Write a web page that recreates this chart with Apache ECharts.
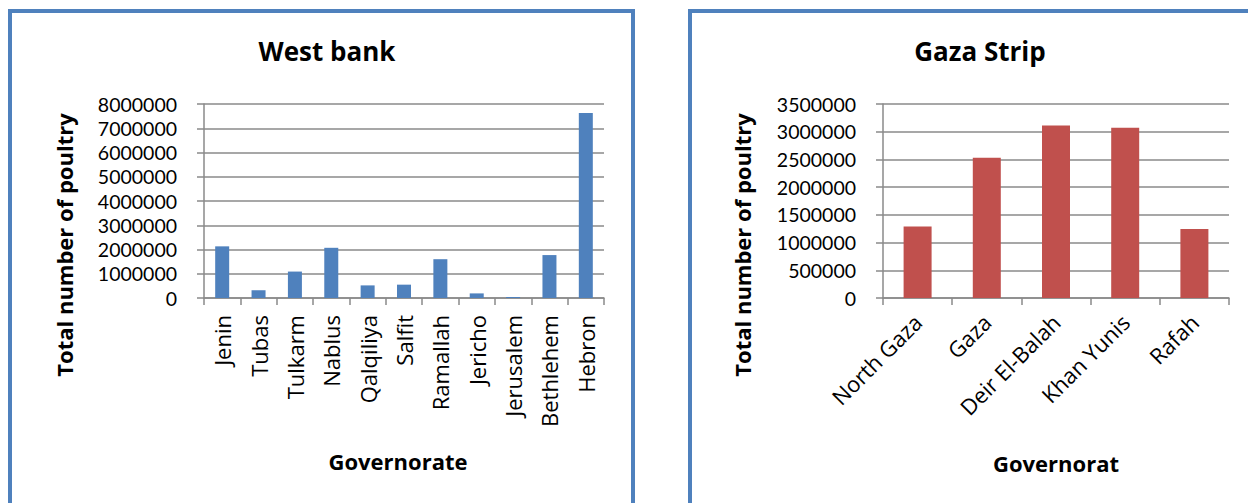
<!DOCTYPE html>
<html>
<head>
<meta charset="utf-8">
<title>Total number of poultry by governorate</title>
<script src="https://cdn.jsdelivr.net/npm/echarts@6/dist/echarts.min.js"></script>
<style>
  html, body { margin: 0; padding: 0; background: #fff; }
  #chart { width: 1248px; height: 503px; }
</style>
</head>
<body>
<div id="chart"></div>
<script>
// West bank
const westCategories = ['Jenin', 'Tubas', 'Tulkarm', 'Nablus', 'Qalqiliya', 'Salfit', 'Ramallah', 'Jericho', 'Jerusalem', 'Bethlehem', 'Hebron']
const westValues = [2130000, 320000, 1090000, 2070000, 520000, 550000, 1600000, 190000, 40000, 1770000, 7630000]
const westTickMax = 8000000
const westTickStep = 1000000

// Gaza Strip
const gazaCategories = ['North Gaza', 'Gaza', 'Deir El-Balah', 'Khan Yunis', 'Rafah']
const gazaValues = [1290000, 2530000, 3110000, 3070000, 1245000]
const gazaTickMax = 3500000
const gazaTickStep = 500000

const FONT = '"Open Sans", "Liberation Sans", sans-serif'
const TICK_FONT = 'Lato, "Open Sans", sans-serif'
const GRID_GREY = '#8a8a8a'
const PANEL_BLUE = '#4f81bd'

const chart = echarts.init(document.getElementById('chart'), null, { renderer: 'svg' })

// 坐标轴公共样式
function valueAxis(gridIndex, max, step) {
  return {
    type: 'value',
    gridIndex: gridIndex,
    min: 0,
    max: max,
    interval: step,
    axisLine: { show: true, lineStyle: { color: GRID_GREY, width: 1.5 } },
    axisTick: { show: true, length: 7, lineStyle: { color: GRID_GREY, width: 1.5 } },
    axisLabel: {
      color: '#000', fontFamily: TICK_FONT, fontSize: 19.5, margin: 27, lineHeight: 20,
      formatter: function (v) { return String(v) },
    },
    splitLine: { show: true, lineStyle: { color: GRID_GREY, width: 1.5 } },
  }
}

function categoryAxis(gridIndex, data, rotate, margin) {
  return {
    type: 'category',
    gridIndex: gridIndex,
    data: data,
    boundaryGap: true,
    axisLine: { show: true, lineStyle: { color: GRID_GREY, width: 1.5 } },
    axisTick: { show: true, length: 7, interval: 0, lineStyle: { color: GRID_GREY, width: 1.5 } },
    axisLabel: { color: '#000', fontFamily: FONT, fontSize: 22, interval: 0, rotate: rotate, margin: margin },
  }
}

function axisName(text, x, y, vertical) {
  return {
    type: 'text',
    x: x,
    y: y,
    rotation: vertical ? Math.PI / 2 : 0,
    style: {
      text: text,
      font: 'bold 22px ' + FONT,
      fill: '#000',
      align: 'center',
      verticalAlign: 'middle',
    },
  }
}

const option = {
  animation: false,
  backgroundColor: '#fff',
  title: [
    { text: 'West bank', left: 322, top: 33, textAlign: 'center',
      textStyle: { fontFamily: FONT, fontSize: 26, fontWeight: 'bold', color: '#000' } },
    { text: 'Gaza Strip', left: 975, top: 33, textAlign: 'center',
      textStyle: { fontFamily: FONT, fontSize: 26, fontWeight: 'bold', color: '#000' } },
  ],
  grid: [
    { left: 204, top: 104, width: 400, height: 194, containLabel: false },
    { left: 883, top: 104, width: 346, height: 194, containLabel: false },
  ],
  xAxis: [
    categoryAxis(0, westCategories, 90, 17),
    categoryAxis(1, gazaCategories, 45, 20),
  ],
  yAxis: [
    valueAxis(0, westTickMax, westTickStep),
    valueAxis(1, gazaTickMax, gazaTickStep),
  ],
  series: [
    {
      name: 'West bank',
      type: 'bar',
      xAxisIndex: 0,
      yAxisIndex: 0,
      data: westValues,
      barWidth: 14,
      itemStyle: { color: PANEL_BLUE },
    },
    {
      name: 'Gaza Strip',
      type: 'bar',
      xAxisIndex: 1,
      yAxisIndex: 1,
      data: gazaValues,
      barWidth: 28,
      itemStyle: { color: '#c0504d' },
    },
  ],
  graphic: [
    // 面板边框
    { type: 'rect', shape: { x: 10, y: 11, width: 623, height: 600 },
      style: { fill: 'none', stroke: PANEL_BLUE, lineWidth: 4 }, z: 100 },
    { type: 'rect', shape: { x: 690, y: 11, width: 700, height: 600 },
      style: { fill: 'none', stroke: PANEL_BLUE, lineWidth: 4 }, z: 100 },
    axisName('Total number of poultry', 64, 245, true),
    axisName('Total number of poultry', 742, 245, true),
    axisName('Governorate', 398, 461, false),
    axisName('Governorat', 1056, 463, false),
  ],
}

chart.setOption(option)
</script>
</body>
</html>
